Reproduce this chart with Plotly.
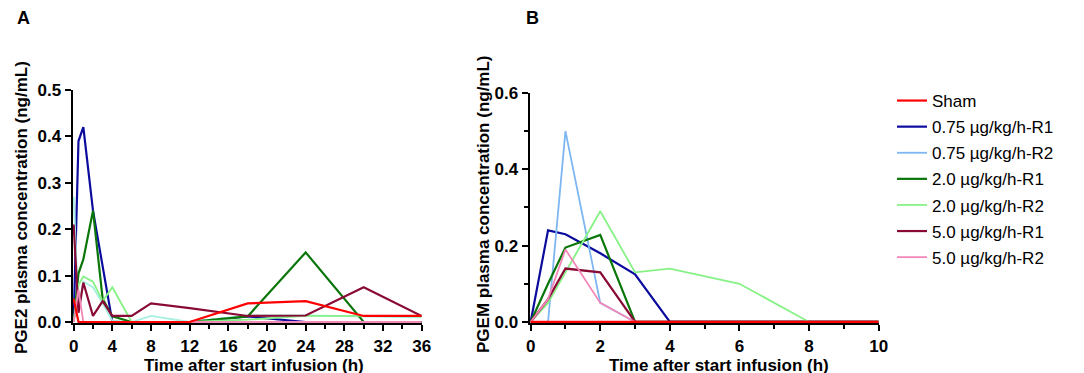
import plotly.graph_objects as go

# ---------------- data ----------------
time_a = [0, 0.5, 1, 2, 3, 4, 6, 8, 12, 18, 24, 30, 36]
time_b = [0, 0.5, 1, 2, 3, 4, 6, 8, 10]

series_names = ["Sham", "0.75 µg/kg/h-R1", "0.75 µg/kg/h-R2", "2.0 µg/kg/h-R1",
                "2.0 µg/kg/h-R2", "5.0 µg/kg/h-R1", "5.0 µg/kg/h-R2"]

# Panel A: PGE2 (ng/mL)
sham_a = [0.05, 0, 0, 0, 0, 0, 0, 0, 0, 0.04, 0.045, 0.013, 0.013]
r075_1_a = [0, 0.39, 0.42, 0.24, 0.12, 0, 0, 0, 0, 0.012, 0, 0, 0]
r075_2_a = [0.27, 0.03, 0.087, 0.075, 0.04, 0.003, 0, 0.013, 0, 0.014, 0.014, 0.012, 0.01]
r2_1_a = [0, 0.105, 0.135, 0.24, 0.05, 0.012, 0, 0, 0, 0.012, 0.15, 0, 0]
r2_2_a = [0, 0.08, 0.098, 0.087, 0.045, 0.075, 0, 0, 0, 0.005, 0.013, 0.013, 0.012]
r5_1_a = [0.21, 0.02, 0.085, 0.013, 0.045, 0.013, 0.013, 0.04, 0.03, 0.013, 0.014, 0.075, 0.013]
r5_2_a = [0, 0.07, 0, 0, 0, 0, 0, 0, 0, 0, 0, 0, 0]

# Panel B: PGEM (ng/mL)
sham_b = [0, 0, 0, 0, 0, 0, 0, 0, 0]
r075_1_b = [0, 0.24, 0.23, 0.18, 0.125, 0, 0, 0, 0]
r075_2_b = [0, 0, 0.5, 0.05, 0, 0, 0, 0, 0]
r2_1_b = [0, 0.1, 0.195, 0.228, 0, 0, 0, 0, 0]
r2_2_b = [0, 0.05, 0.13, 0.29, 0.13, 0.14, 0.1, 0, 0]
r5_1_b = [0, 0.06, 0.14, 0.13, 0, 0, 0, 0, 0]
r5_2_b = [0, 0.06, 0.19, 0.05, 0, 0, 0, 0, 0]

xticks_a = [0, 4, 8, 12, 16, 20, 24, 28, 32, 36]
yticks_a = [0, 0.1, 0.2, 0.3, 0.4, 0.5]
xticks_b = [0, 2, 4, 6, 8, 10]
yticks_b = [0, 0.2, 0.4, 0.6]

# ---------------- style ----------------
colors = ["#FF0000", "#0B0B9E", "#7DB6F2", "#0A760A", "#86F286", "#8A0A36", "#F287B8"]
colors_a = ["#FF0000", "#0B0B9E", "#A6F0E2", "#0A760A", "#86F286", "#8A0A36", "#F287B8"]
widths = [2.2, 2.2, 1.8, 2.2, 1.8, 2.2, 1.8]

data_a = [sham_a, r075_1_a, r075_2_a, r2_1_a, r2_2_a, r5_1_a, r5_2_a]
data_b = [sham_b, r075_1_b, r075_2_b, r2_1_b, r2_2_b, r5_1_b, r5_2_b]

W, H = 1084, 373
def px(x):
    return x / W
def py(y):
    return 1 - y / H

FONT = "Arial, Liberation Sans, Helvetica, sans-serif"

fig = go.Figure()
draw_order = [1, 2, 3, 4, 5, 6, 0]
for i in draw_order:
    fig.add_trace(go.Scatter(x=time_a, y=data_a[i], mode="lines", name=series_names[i],
                             line=dict(color=colors_a[i], width=widths[i]),
                             xaxis="x", yaxis="y", showlegend=False))
for i in draw_order:
    fig.add_trace(go.Scatter(x=time_b, y=data_b[i], mode="lines", name=series_names[i],
                             line=dict(color=colors[i], width=widths[i]),
                             xaxis="x2", yaxis="y2", showlegend=True,
                             legendrank=i + 1, legendgroup=str(i)))

axis_common = dict(showgrid=False, zeroline=False, showline=True, linecolor="black",
                   linewidth=2, ticks="outside", tickwidth=2, ticklen=6, tickcolor="black",
                   tickfont=dict(family=FONT, size=17, color="black", weight="bold"),
                   automargin=False)

fig.update_layout(
    width=W, height=H,
    margin=dict(l=0, r=0, t=0, b=0),
    paper_bgcolor="white", plot_bgcolor="white",
    xaxis=dict(axis_common, domain=[px(64.5), px(413.7)], range=[-0.12, 36],
               tickvals=xticks_a, anchor="y",
               minor=dict(tickvals=[2, 6, 10, 14, 18, 22, 26, 30, 34], ticks="outside",
                          ticklen=4, tickwidth=2, tickcolor="black")),
    yaxis=dict(axis_common, domain=[py(315.3), py(82)], range=[-0.0028, 0.5],
               tickvals=yticks_a, tickformat=".1f", anchor="x"),
    xaxis2=dict(axis_common, domain=[px(521.6), px(870.7)], range=[-0.03, 10],
                tickvals=xticks_b, anchor="y2",
                minor=dict(tickvals=[1, 3, 5, 7, 9], ticks="outside",
                           ticklen=4, tickwidth=2, tickcolor="black")),
    yaxis2=dict(axis_common, domain=[py(315.3), py(85)], range=[-0.0035, 0.6],
                tickvals=yticks_b, tickformat=".1f", anchor="x2",
                minor=dict(tickvals=[0.1, 0.3, 0.5], ticks="outside",
                           ticklen=4, tickwidth=2, tickcolor="black")),
    legend=dict(x=px(884), y=py(75), xanchor="left", yanchor="top",
                font=dict(family=FONT, size=17, color="black"),
                bgcolor="rgba(0,0,0,0)", borderwidth=0, tracegroupgap=1,
                itemwidth=30),
    showlegend=True,
)

annos = [
    dict(text="A", x=px(15), y=py(10), font=dict(size=18)),
    dict(text="B", x=px(524), y=py(10), font=dict(size=18)),
    dict(text="Time after start infusion (h)", x=px(246), y=py(357), font=dict(size=17)),
    dict(text="Time after start infusion (h)", x=px(711), y=py(357), font=dict(size=17)),
    dict(text="PGE2 plasma concentration (ng/mL)", x=px(13), y=py(200), textangle=-90,
         font=dict(size=17)),
    dict(text="PGEM plasma concentration (ng/mL)", x=px(475), y=py(196), textangle=-90,
         font=dict(size=17)),
]
for a in annos:
    f = dict(family=FONT, color="black", weight="bold")
    f.update(a.pop("font"))
    fig.add_annotation(xref="paper", yref="paper", showarrow=False,
                       xanchor="center", yanchor="middle", font=f, **a)

fig.write_html("out.html")
